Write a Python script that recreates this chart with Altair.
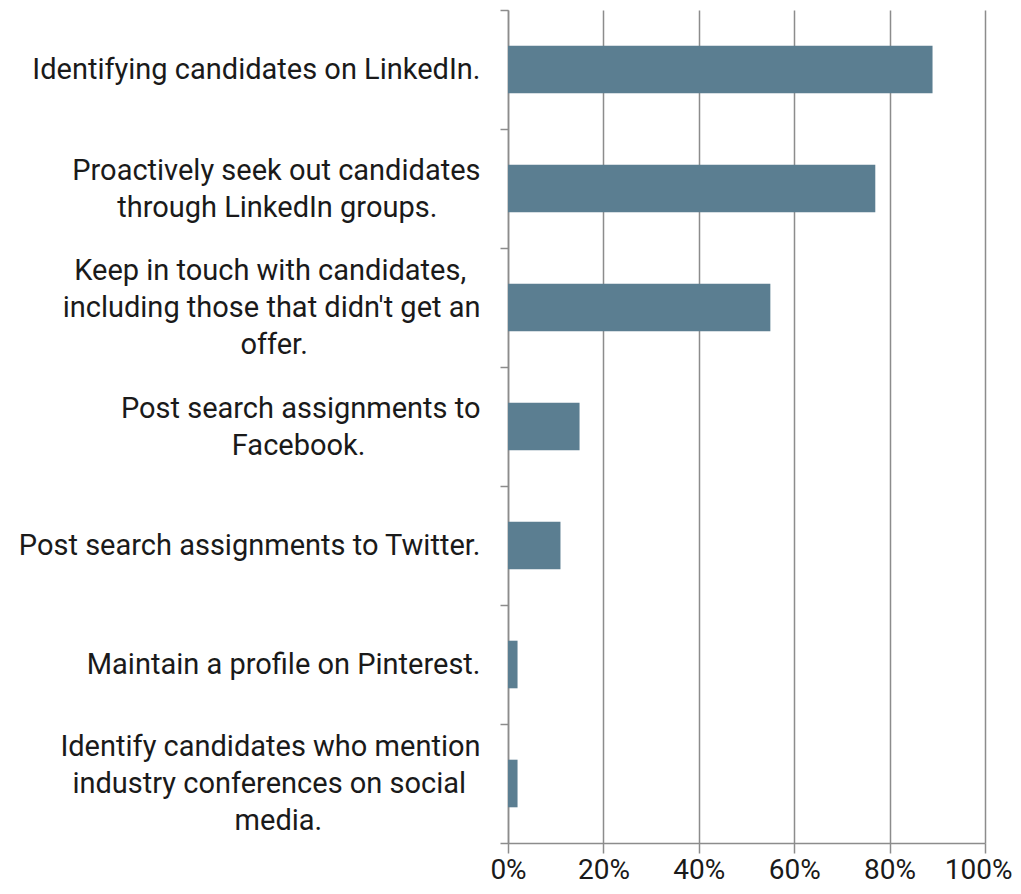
import altair as alt
import pandas as pd

categories = [
    "Identifying candidates on LinkedIn.",
    "Proactively seek out candidates\nthrough LinkedIn groups.",
    "Keep in touch with candidates,\nincluding those that didn't get an\noffer.",
    "Post search assignments to\nFacebook.",
    "Post search assignments to Twitter.",
    "Maintain a profile on Pinterest.",
    "Identify candidates who mention\nindustry conferences on social\nmedia.",
]
values = [89, 77, 55, 15, 11, 2, 2]
x_ticks = [0, 20, 40, 60, 80, 100]

# trailing no-break spaces per label line so that lines look centred in a right-aligned block
line_pad = [
    [0],
    [0, 6],
    [2, 0, 24],
    [0, 16],
    [0],
    [0],
    [0, 2, 22],
]

NBSP = "\u00a0"
ZWSP = "\u200b"  # keeps the trailing no-break spaces from being trimmed
display = []
for cat, pads in zip(categories, line_pad):
    lines = cat.split("\n")
    display.append("\n".join((l + NBSP * p + ZWSP) if p else l for l, p in zip(lines, pads)))

df = pd.DataFrame({"category": display, "value": values})

TEXT = "#1a1a1a"
GRAY = "#8c8c8c"
FONT = "Roboto"
LINE_H = 37

nlines = "length(split(datum.value, '\\n'))"

chart = (
    alt.Chart(df)
    .mark_bar(height={"band": 0.4}, color="#5b7e91")
    .encode(
        x=alt.X(
            "value:Q",
            scale=alt.Scale(domain=[0, 100], nice=False),
            axis=alt.Axis(
                values=x_ticks,
                labelExpr="datum.value + '%'",
                title=None,
                grid=True,
                gridColor=GRAY,
                gridWidth=1.5,
                domainColor=GRAY,
                domainWidth=1.5,
                tickColor=GRAY,
                tickWidth=1.5,
                tickSize=10,
                labelFont=FONT,
                labelFontSize=28,
                labelColor=TEXT,
                labelPadding=3,
                labelFlush=False,
                labelAlign={"condition": {"test": "datum.value == 100", "value": "right"}, "value": "center"},
                labelOffset={"condition": {"test": "datum.value == 100", "value": 27}, "value": 0},
            ),
        ),
        y=alt.Y(
            "category:N",
            sort=display,
            scale=alt.Scale(paddingInner=0, paddingOuter=0),
            axis=alt.Axis(
                title=None,
                tickBand="extent",
                tickSize=8,
                tickColor=GRAY,
                tickWidth=1.5,
                domainColor=GRAY,
                domainWidth=1.5,
                labelExpr="split(datum.label, '\\n')",
                labelFont=FONT,
                labelFontSize=29,
                labelColor=TEXT,
                labelLineHeight=LINE_H,
                labelLimit=0,
                labelAlign="right",
                labelPadding=20,
                labelBaseline="middle",
                labelOffset={
                    "condition": [
                        {"test": nlines + " == 3", "value": -LINE_H},
                        {"test": nlines + " == 2", "value": -LINE_H / 2},
                    ],
                    "value": 0,
                },
            ),
        ),
    )
    .properties(
        width=477,
        height=833,
        autosize=alt.AutoSizeParams(type="none"),
        padding={"left": 500, "top": 2, "right": 28, "bottom": 43},
    )
    .configure_view(stroke=None)
)

chart.save("out.html", embed_options={"renderer": "svg", "actions": False})
